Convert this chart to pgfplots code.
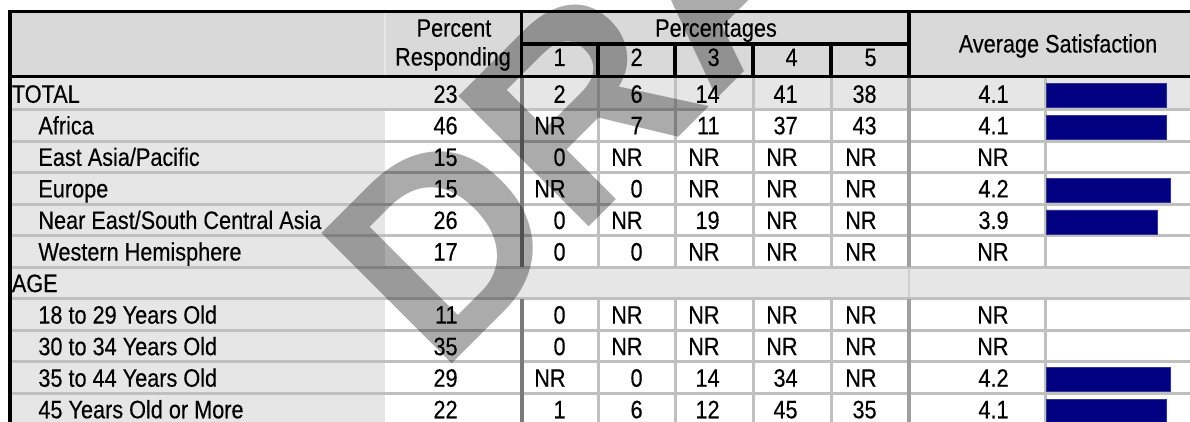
\documentclass[border=0pt]{standalone}
\usepackage{fontspec}
\setmainfont[FakeStretch=0.86,FakeBold=0.3]{Liberation Sans}
\newfontfamily\wmfont{Liberation Sans}
\usepackage{pgfplots}
\pgfplotsset{compat=1.18}
\definecolor{hdr}{HTML}{D9D9D9}
\definecolor{rowg}{HTML}{E6E6E6}
\definecolor{sep}{HTML}{C0C0C0}
\definecolor{dk}{HTML}{7A7A7A}
\definecolor{md}{HTML}{A0A0A0}
\definecolor{navybar}{HTML}{000080}

\newcommand{\rowlab}[3]{%
  \pgfmathsetmacro{\yb}{78+31.55*(#1-0.5)+9}%
  \node[anchor=base west,inner sep=0] at (#3,\yb) {#2};}
\newcommand{\rowvals}[8]{%
  \pgfmathsetmacro{\yb}{78+31.55*(#1-0.5)+9}%
  \node[anchor=base east,inner sep=0] at (458,\yb) {#2};
  \node[anchor=base east,inner sep=0] at (566,\yb) {#3};
  \node[anchor=base east,inner sep=0] at (643,\yb) {#4};
  \node[anchor=base east,inner sep=0] at (720,\yb) {#5};
  \node[anchor=base east,inner sep=0] at (798,\yb) {#6};
  \node[anchor=base east,inner sep=0] at (877,\yb) {#7};
  \node[anchor=base east,inner sep=0] at (1009,\yb) {#8};}

\begin{document}
\begin{tikzpicture}[every node/.style={font=\fontsize{12.6}{14}\selectfont}]
\useasboundingbox (0,0) rectangle (595pt,-211pt);
\clip (0,0) rectangle (595pt,-211pt);
\begin{scope}[x=0.5pt,y=-0.5pt]
% backgrounds
\fill[white] (0,0) rectangle (1200,430);
\fill[hdr] (10,12) rectangle (1200,77);
\fill[rowg] (10,78) rectangle (385,430);
\fill[rowg] (10,78) rectangle (1200,109.55);
\fill[rowg] (10,267.3) rectangle (1200,298.85);
% row separators
\foreach \r in {1,...,10} {
  \draw[sep,line width=1.5pt] (10,78+31.55*\r) -- (1200,78+31.55*\r);
}
% vertical lines in body (skip AGE row)
\foreach \xx in {598,675,753,831,1045} {
  \draw[sep,line width=1.5pt] (\xx,78) -- (\xx,267.3);
  \draw[sep,line width=1.5pt] (\xx,298.85) -- (\xx,430);
}
\draw[dk,line width=2pt] (521.5,78) -- (521.5,267.3);
\draw[dk,line width=2pt] (521.5,298.85) -- (521.5,430);
\draw[md,line width=2pt] (909,78) -- (909,267.3);
\draw[md,line width=2pt] (909,298.85) -- (909,430);
\draw[rowg!90!black,line width=0.8pt] (909,268.8) -- (909,297.3);
% header lines
\draw[rowg,line width=0.8pt] (385,13) -- (385,76);
\draw[black,line width=1.75pt] (8,11.7) -- (1200,11.7);
\draw[black,line width=1.75pt] (8,76.7) -- (1200,76.7);
\draw[black,line width=1.9pt] (10,10) -- (10,430);
\draw[black,line width=1.75pt] (521.5,11.7) -- (521.5,76.7);
\draw[black,line width=1.75pt] (909,11.7) -- (909,76.7);
\draw[black,line width=1.75pt] (521.5,44) -- (909,44);
\foreach \xx in {598,675,753,831} {
  \draw[black,line width=1.75pt] (\xx,44) -- (\xx,76.7);
}
% header text
\node[anchor=base,inner sep=0] at (454,36.7) {Percent};
\node[anchor=base,inner sep=0] at (453,65.5) {Responding};
\node[anchor=base,inner sep=0] at (716,36.7) {Percentages};
\node[anchor=base east,inner sep=0] at (566,66) {1};
\node[anchor=base east,inner sep=0] at (643,66) {2};
\node[anchor=base east,inner sep=0] at (720,66) {3};
\node[anchor=base east,inner sep=0] at (798,66) {4};
\node[anchor=base east,inner sep=0] at (877,66) {5};
\node[anchor=base,inner sep=0] at (1058,52.5) {Average Satisfaction};
% row labels
\rowlab{1}{TOTAL}{11.5}
\rowlab{2}{Africa}{38}
\rowlab{3}{East Asia/Pacific}{38}
\rowlab{4}{Europe}{38}
\rowlab{5}{Near East/South Central Asia}{38}
\rowlab{6}{Western Hemisphere}{38}
\rowlab{7}{AGE}{11.5}
\rowlab{8}{18 to 29 Years Old}{38}
\rowlab{9}{30 to 34 Years Old}{38}
\rowlab{10}{35 to 44 Years Old}{38}
\rowlab{11}{45 Years Old or More}{38}
% values: percent responding, 1..5, average
\rowvals{1}{23}{2}{6}{14}{41}{38}{4.1}
\rowvals{2}{46}{NR}{7}{11}{37}{43}{4.1}
\rowvals{3}{15}{0}{NR}{NR}{NR}{NR}{NR}
\rowvals{4}{15}{NR}{0}{NR}{NR}{NR}{4.2}
\rowvals{5}{26}{0}{NR}{19}{NR}{NR}{3.9}
\rowvals{6}{17}{0}{0}{NR}{NR}{NR}{NR}
\rowvals{8}{11}{0}{NR}{NR}{NR}{NR}{NR}
\rowvals{9}{35}{0}{NR}{NR}{NR}{NR}{NR}
\rowvals{10}{29}{NR}{0}{14}{34}{NR}{4.2}
\rowvals{11}{22}{1}{6}{12}{45}{35}{4.1}
\coordinate (barorigin) at (1046,80);
\end{scope}
\begin{axis}[at={(barorigin)},anchor=north west,scale only axis,
  width=72.5pt,height=173.5pt,xmin=1.2,xmax=4.71,ymin=0.5,ymax=11.5,
  y dir=reverse,hide axis,xbar,bar width=12pt,clip=true]
\addplot[fill=navybar,draw=navybar!80!white,line width=0.3pt] coordinates
  {(4.1,1) (4.1,2) (4.2,4) (3.9,5) (4.2,10) (4.1,11)};
\end{axis}
\begin{scope}[x=0.5pt,y=-0.5pt]
\node[anchor=base west,inner sep=0,rotate=45,text=black,text opacity=0.33,
  font=\wmfont\bfseries\fontsize{134}{134}\selectfont] at (439,377) {DRAFT};
\end{scope}
\end{tikzpicture}
\end{document}
